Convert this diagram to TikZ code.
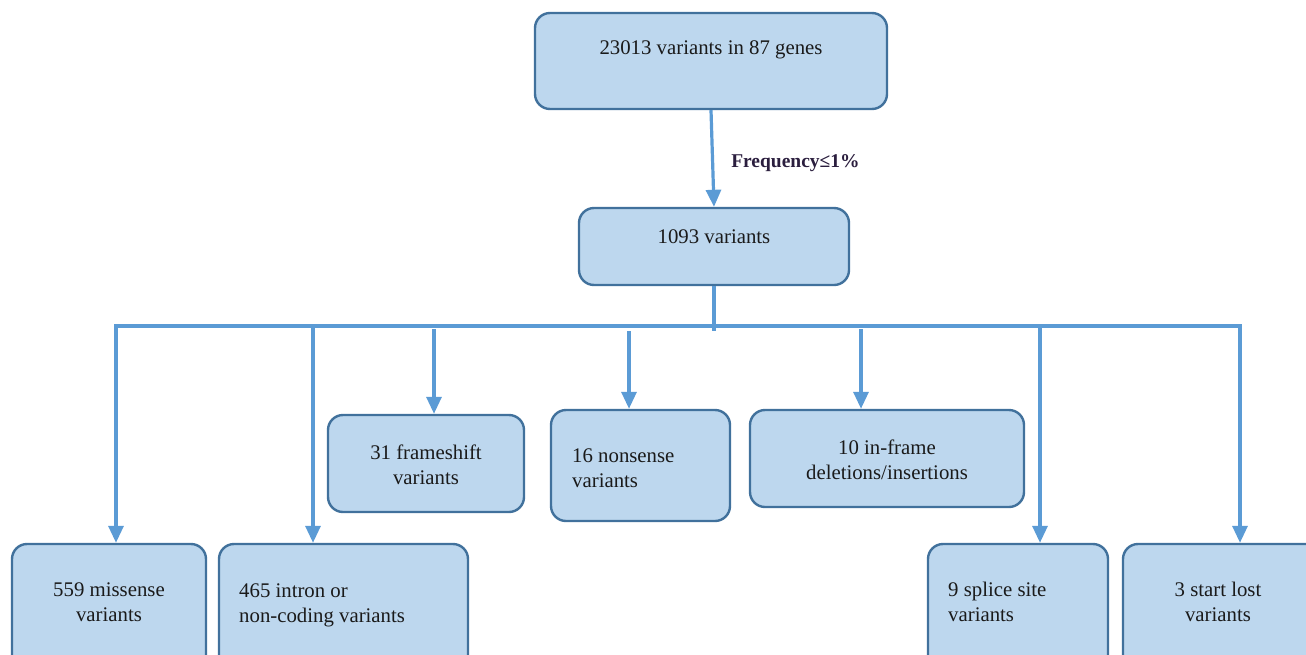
\documentclass[tikz,border=0pt]{standalone}
\usepackage{fontspec}
\setmainfont{Liberation Serif}
\usetikzlibrary{arrows.meta}
\definecolor{boxfill}{HTML}{BDD7EE}
\definecolor{boxdraw}{HTML}{41719C}
\definecolor{arrowc}{HTML}{5B9BD5}
\definecolor{labc}{HTML}{2B1E3E}
\definecolor{txtc}{HTML}{1A1A1A}
\tikzset{
  box/.style={draw=boxdraw, fill=boxfill, line width=2.4pt, rounded corners=15pt, inner sep=0pt},
  txt/.style={text=txtc, font=\fontsize{20.8}{25}\selectfont, inner sep=0pt},
  conn/.style={draw=arrowc, line width=3.2pt},
  arr/.style={conn, -{Triangle[width=15pt,length=17pt]}}
}
\begin{document}
\begin{tikzpicture}[x=1pt,y=-1pt]
\useasboundingbox (0,0) rectangle (1306,654);
\clip (0,0) rectangle (1306,654);
% boxes
\node[box, minimum width=352pt, minimum height=96pt] (top) at (711,61) {};
\node[box, minimum width=270pt, minimum height=77pt] (mid) at (714,246.5) {};
\node[box, minimum width=196pt, minimum height=97pt] (fs) at (426,463.5) {};
\node[box, minimum width=179pt, minimum height=111pt] (ns) at (640.5,465.5) {};
\node[box, minimum width=274pt, minimum height=97pt] (inf) at (887,458.5) {};
\node[box, minimum width=194pt, minimum height=130pt] (mis) at (109,609) {};
\node[box, minimum width=249pt, minimum height=130pt] (int) at (343.5,609) {};
\node[box, minimum width=180pt, minimum height=130pt] (spl) at (1018,609) {};
\node[box, minimum width=200pt, minimum height=130pt] (stl) at (1223,609) {};
% texts
\node[txt] (ttop) at (711,50) {23013 variants in 87 genes};
\node[txt] (tmid) at (714,237) {1093 variants};
\node[txt, align=center] (tfs) at (426,465) {31 frameshift\\variants};
\node[txt, align=left, anchor=west] (tns) at (572,468) {16 nonsense\\variants};
\node[txt, align=center] (tinf) at (887,460) {10 in-frame\\deletions/insertions};
\node[txt, align=center] (tmis) at (109,602) {559 missense\\variants};
\node[txt, align=left, anchor=west] (tint) at (239,605) {465 intron or\\non-coding variants};
\node[txt, align=left, anchor=west] (tspl) at (948,602) {9 splice site\\variants};
\node[txt, align=center] (tstl) at (1218,602) {3 start lost\\variants};
% main arrow
\draw[arr] (top.south) -- (mid.north) node[pos=0.55, right=17pt, text=labc, font=\fontsize{19.5}{21}\selectfont\bfseries, inner sep=0pt] (freq) {Frequency≤1\%};
% bus
\coordinate (busL) at (114,326);
\coordinate (busR) at (1241.5,326);
\coordinate (busM) at (714,331);
\draw[conn] (busL) -- (busR);
\draw[conn] (mid.south) -- (busM);
\coordinate (a1) at (116,326);
\coordinate (a2) at (313,326);
\coordinate (a3) at (434,329);
\coordinate (a4) at (629,331);
\coordinate (a5) at (861,329);
\coordinate (a6) at (1040,326);
\coordinate (a7) at (1240,326);
\draw[arr] (a1) -- (a1 |- mis.north);
\draw[arr] (a2) -- (a2 |- int.north);
\draw[arr] (a3) -- (a3 |- fs.north);
\draw[arr] (a4) -- (a4 |- ns.north);
\draw[arr] (a5) -- (a5 |- inf.north);
\draw[arr] (a6) -- (a6 |- spl.north);
\draw[arr] (a7) -- (a7 |- stl.north);
\end{tikzpicture}
\end{document}
